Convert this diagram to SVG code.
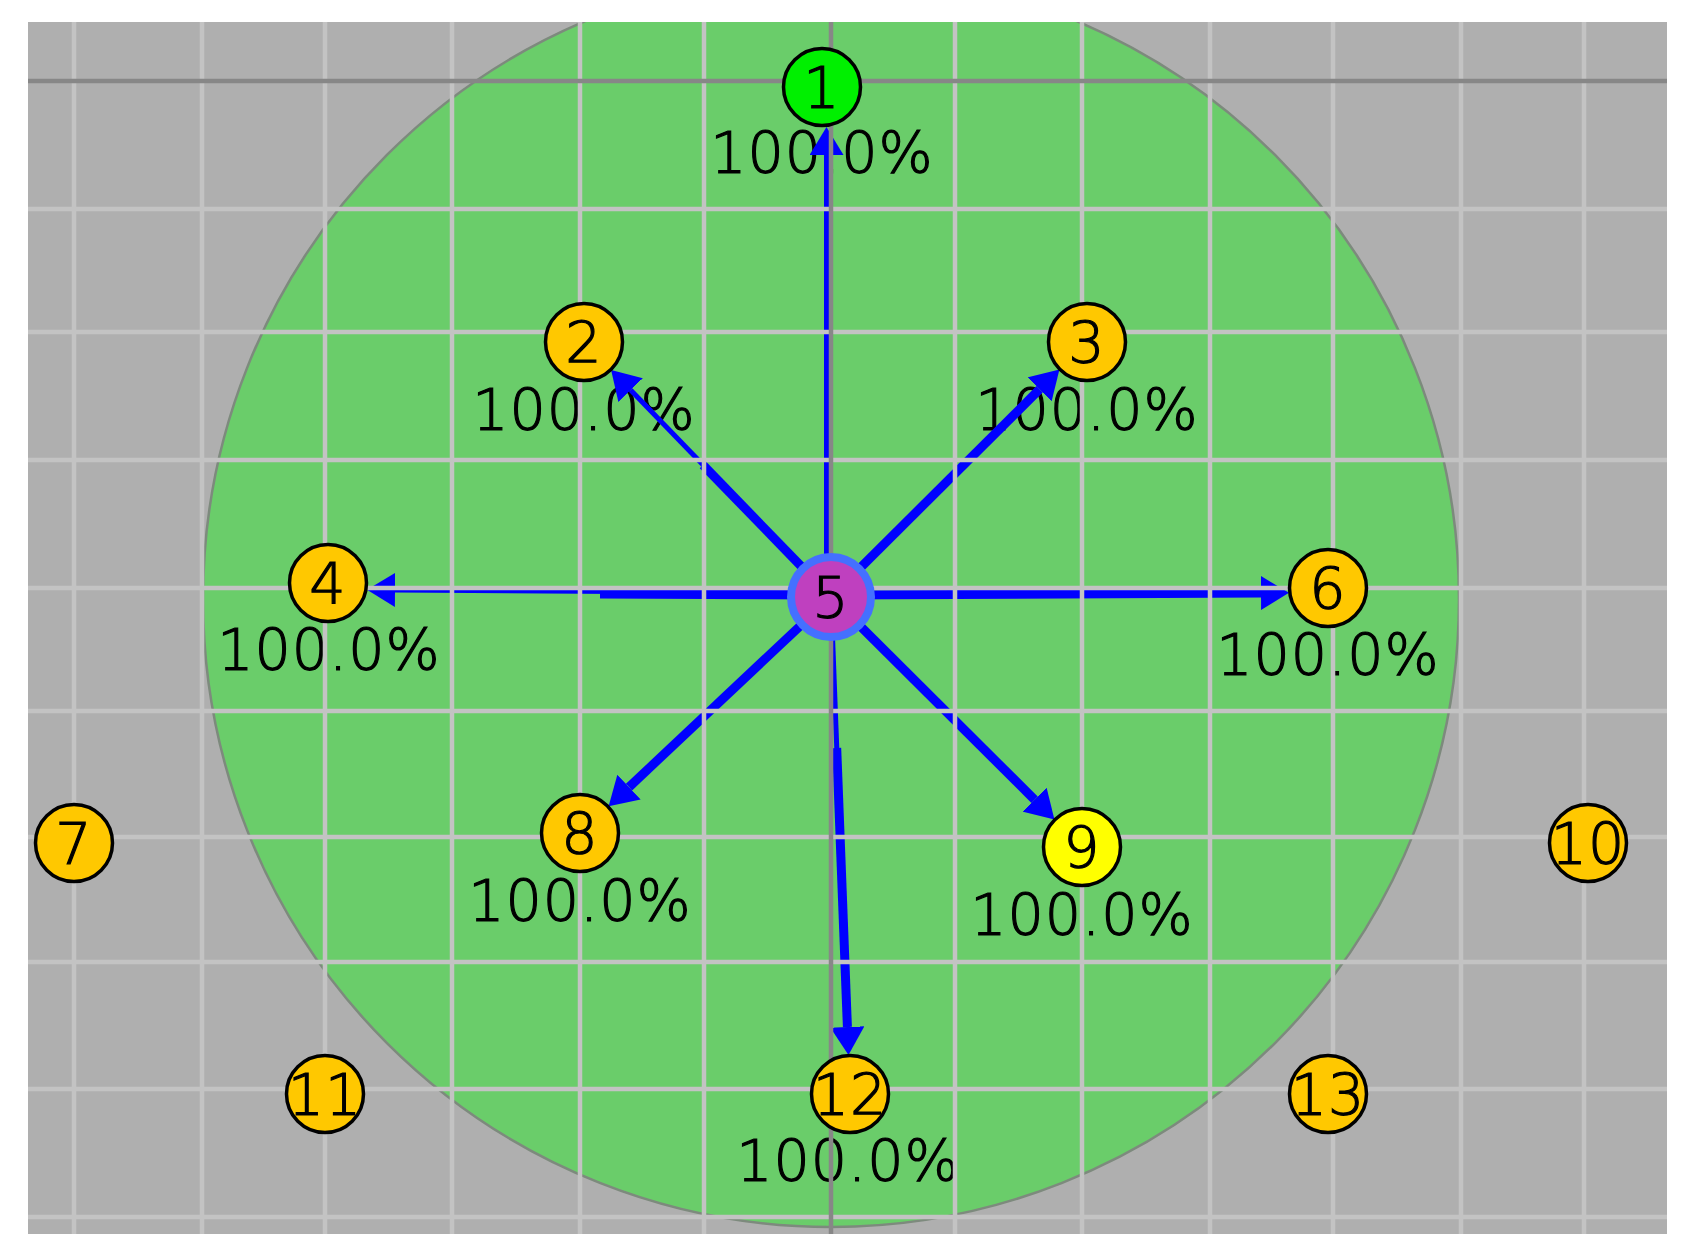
<svg xmlns="http://www.w3.org/2000/svg" width="1700" height="1257" viewBox="0 0 1700 1257">
<defs>
<style>
.grid{stroke:#c3c3c3;stroke-width:4.5}
.axis{stroke:#878787;stroke-width:4.5}
.edge{stroke:#0000ff;fill:none;stroke-linecap:butt}
.thin{stroke-width:5}
.thick{stroke-width:9}
.node circle{stroke:#000;stroke-width:3.5}
.orange{fill:#ffc800}
.txt{font-family:"DejaVu Sans","Liberation Sans",sans-serif;font-weight:200;font-size:57px;fill:#000;stroke:#000;stroke-width:1.2;text-anchor:middle;letter-spacing:1px}
</style>
<clipPath id="area"><rect x="28" y="22" width="1639" height="1212"/></clipPath>
<marker id="arr" markerUnits="userSpaceOnUse" viewBox="0 0 28 34" markerWidth="28" markerHeight="34" refX="0" refY="17" orient="auto">
<path d="M0,0 L28,17 L0,34 Z" fill="#0000ff"/>
</marker>
</defs>
<rect x="28" y="22" width="1639" height="1212" fill="#afafaf"/>
<g clip-path="url(#area)">
<circle cx="831" cy="599" r="628" fill="#6acd6a" stroke="#7d8a7d" stroke-width="2.5"/>
</g>
<g id="labels">
<text id="label-1" class="txt" x="822" y="173">100.0%</text>
<text id="label-2" class="txt" x="584" y="430">100.0%</text>
<text id="label-3" class="txt" x="1087" y="430">100.0%</text>
<text id="label-4" class="txt" x="329" y="670">100.0%</text>
<text id="label-6" class="txt" x="1328" y="675">100.0%</text>
<text id="label-8" class="txt" x="580" y="921">100.0%</text>
<text id="label-9" class="txt" x="1082" y="935">100.0%</text>
<text id="label-12" class="txt" x="848" y="1181">100.0%</text>
</g>
<g id="connectors">
<g id="e5-1"><line class="edge thin" x1="826.5" y1="597" x2="826.5" y2="155" marker-end="url(#arr)"/></g>
<g id="e5-2"><line class="edge thin" x1="831" y1="597" x2="630.6" y2="390.1" marker-end="url(#arr)"/><line class="edge thick" x1="831" y1="597" x2="703" y2="465"/></g>
<g id="e5-3"><line class="edge thick" x1="831" y1="597" x2="1039.6" y2="389.3" marker-end="url(#arr)"/></g>
<g id="e5-4"><line class="edge thin" x1="831" y1="593" x2="395" y2="590" marker-end="url(#arr)"/><line class="edge thick" x1="831" y1="595" x2="600" y2="594"/></g>
<g id="e5-6"><line class="edge thick" x1="831" y1="595" x2="1261" y2="593" marker-end="url(#arr)"/></g>
<g id="e5-8"><line class="edge thick" x1="831" y1="597" x2="629" y2="787.1" marker-end="url(#arr)"/></g>
<g id="e5-9"><line class="edge thick" x1="831" y1="597" x2="1034.6" y2="799.7" marker-end="url(#arr)"/></g>
<g id="e5-12"><line class="edge thin" x1="831" y1="597" x2="847.4" y2="1027" marker-end="url(#arr)"/><line class="edge thick" x1="836.7" y1="748" x2="847.4" y2="1027"/></g>
</g>
<g id="grid">
<line class="grid" x1="74" y1="22" x2="74" y2="1234"/>
<line class="grid" x1="202" y1="22" x2="202" y2="1234"/>
<line class="grid" x1="325" y1="22" x2="325" y2="1234"/>
<line class="grid" x1="452" y1="22" x2="452" y2="1234"/>
<line class="grid" x1="580" y1="22" x2="580" y2="1234"/>
<line class="grid" x1="704" y1="22" x2="704" y2="1234"/>
<line class="grid" x1="955" y1="22" x2="955" y2="1234"/>
<line class="grid" x1="1082" y1="22" x2="1082" y2="1234"/>
<line class="grid" x1="1210" y1="22" x2="1210" y2="1234"/>
<line class="grid" x1="1333" y1="22" x2="1333" y2="1234"/>
<line class="grid" x1="1461" y1="22" x2="1461" y2="1234"/>
<line class="grid" x1="1584" y1="22" x2="1584" y2="1234"/>
<line class="grid" x1="28" y1="209" x2="1667" y2="209"/>
<line class="grid" x1="28" y1="332" x2="1667" y2="332"/>
<line class="grid" x1="28" y1="460" x2="1667" y2="460"/>
<line class="grid" x1="28" y1="588" x2="1667" y2="588"/>
<line class="grid" x1="28" y1="711" x2="1667" y2="711"/>
<line class="grid" x1="28" y1="837" x2="1667" y2="837"/>
<line class="grid" x1="28" y1="962" x2="1667" y2="962"/>
<line class="grid" x1="28" y1="1089" x2="1667" y2="1089"/>
<line class="grid" x1="28" y1="1217" x2="1667" y2="1217"/>
<line class="axis" x1="831" y1="22" x2="831" y2="1234"/>
<line class="axis" x1="28" y1="81" x2="1667" y2="81"/>
</g>
<g id="nodes">
<g id="node-1" class="node"><circle cx="822" cy="87" r="38.5" fill="#00f000"/><text class="txt" x="822" y="108">1</text></g>
<g id="node-2" class="node"><circle class="orange" cx="584" cy="342" r="38.5"/><text class="txt" x="584" y="363">2</text></g>
<g id="node-3" class="node"><circle class="orange" cx="1087" cy="342" r="38.5"/><text class="txt" x="1087" y="363">3</text></g>
<g id="node-4" class="node"><circle class="orange" cx="328" cy="583" r="38.5"/><text class="txt" x="328" y="604">4</text></g>
<g id="node-5" class="node"><circle cx="831" cy="597" r="40" fill="#bf40bf" style="stroke:#4470ff;stroke-width:8"/><text class="txt" x="831" y="618">5</text></g>
<g id="node-6" class="node"><circle class="orange" cx="1328" cy="588" r="38.5"/><text class="txt" x="1328" y="609">6</text></g>
<g id="node-7" class="node"><circle class="orange" cx="74" cy="843" r="38.5"/><text class="txt" x="74" y="864">7</text></g>
<g id="node-8" class="node"><circle class="orange" cx="580" cy="833" r="38.5"/><text class="txt" x="580" y="854">8</text></g>
<g id="node-9" class="node"><circle cx="1082" cy="847" r="38.5" fill="#ffff00"/><text class="txt" x="1082" y="868">9</text></g>
<g id="node-10" class="node"><circle class="orange" cx="1588" cy="843" r="38.5"/><text class="txt" x="1588" y="864">10</text></g>
<g id="node-11" class="node"><circle class="orange" cx="325" cy="1094" r="38.5"/><text class="txt" x="325" y="1115">11</text></g>
<g id="node-12" class="node"><circle class="orange" cx="850" cy="1094" r="38.5"/><text class="txt" x="850" y="1115">12</text></g>
<g id="node-13" class="node"><circle class="orange" cx="1328" cy="1094" r="38.5"/><text class="txt" x="1328" y="1115">13</text></g>
</g>
</svg>
